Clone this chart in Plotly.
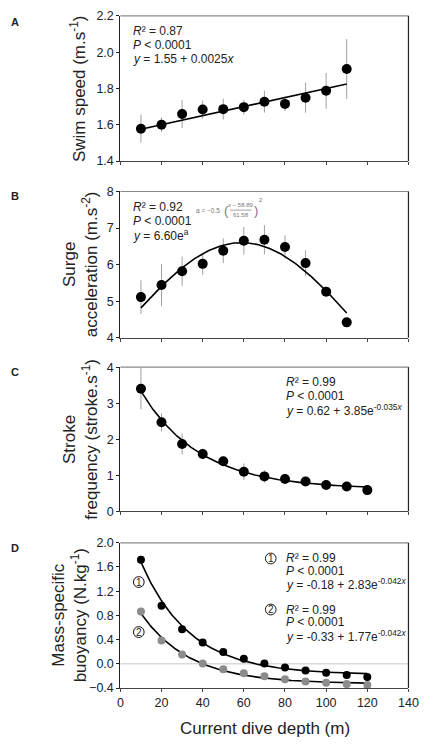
import numpy as np
import plotly.graph_objects as go

W, H = 433, 748

# ---------------- data ----------------
depth_ab = [10, 20, 30, 40, 50, 60, 70, 80, 90, 100, 110]
depth_cd = [10, 20, 30, 40, 50, 60, 70, 80, 90, 100, 110, 120]

swim_speed = [1.578, 1.600, 1.659, 1.684, 1.686, 1.697, 1.727, 1.715, 1.749, 1.787, 1.907]
swim_err = [0.077, 0.040, 0.077, 0.050, 0.057, 0.040, 0.060, 0.040, 0.083, 0.098, 0.165]

surge_acc = [5.11, 5.44, 5.82, 6.02, 6.38, 6.65, 6.68, 6.48, 6.04, 5.26, 4.42]
surge_err = [0.46, 0.58, 0.40, 0.30, 0.34, 0.38, 0.40, 0.32, 0.35, 0.07, 0.0]

stroke_freq = [3.40, 2.47, 1.87, 1.59, 1.39, 1.10, 0.97, 0.90, 0.83, 0.73, 0.69, 0.59]
stroke_err = [0.57, 0.25, 0.29, 0.15, 0.05, 0.23, 0.17, 0.10, 0.07, 0.05, 0.04, 0.03]

buoy_1 = [1.718, 0.960, 0.573, 0.353, 0.197, 0.084, 0.003, -0.061, -0.110, -0.147, -0.185, -0.217]
buoy_2 = [0.863, 0.385, 0.154, 0.003, -0.088, -0.158, -0.206, -0.255, -0.292, -0.314, -0.335, -0.352]

# fitted model coefficients (as printed on the chart)
fitA = (1.55, 0.0025)
fitB = (6.60, 58.89, 61.58)
fitC = (0.62, 3.85, -0.035)
fitD1 = (-0.18, 2.83, -0.042)
fitD2 = (-0.33, 1.77, -0.042)

x_ticks = [0, 20, 40, 60, 80, 100, 120, 140]

# ---------------- layout helpers ----------------
def PX(px):
    return px / W

def PY(py):
    return 1 - py / H

X0, X1 = 121, 418
panels = [(9, 157), (188, 337), (367, 514), (546, 694)]

FONT = "Liberation Sans, Arial, sans-serif"
fig = go.Figure()

xa = np.linspace(10, 110, 120)
xc = np.linspace(10, 120, 150)

def marker_trace(x, y, err, xref, yref, color="black", size=10):
    kw = {}
    if err is not None:
        kw["error_y"] = dict(type="data", array=err, visible=True, color="#a0a0a0", thickness=1, width=0)
    return go.Scatter(x=x, y=y, mode="markers", xaxis=xref, yaxis=yref,
                      marker=dict(color=color, size=size, line=dict(width=0)),
                      showlegend=False, hoverinfo="skip", **kw)

def line_trace(x, y, xref, yref):
    return go.Scatter(x=x, y=y, mode="lines", xaxis=xref, yaxis=yref,
                      line=dict(color="black", width=1.6), showlegend=False, hoverinfo="skip")

# zero line panel D (drawn first so it sits below)
fig.add_trace(go.Scatter(x=[0, 140], y=[0, 0], mode="lines", xaxis="x4", yaxis="y4",
                         line=dict(color="#d9d9d9", width=1.5), showlegend=False, hoverinfo="skip"))

# Panel A
fig.add_trace(marker_trace(depth_ab, swim_speed, swim_err, "x", "y"))
fig.add_trace(line_trace(xa, fitA[0] + fitA[1] * xa, "x", "y"))
# Panel B
fig.add_trace(marker_trace(depth_ab, surge_acc, surge_err, "x2", "y2"))
fig.add_trace(line_trace(xa, fitB[0] * np.exp(-0.5 * ((xa - fitB[1]) / fitB[2]) ** 2), "x2", "y2"))
# Panel C
fig.add_trace(marker_trace(depth_cd, stroke_freq, stroke_err, "x3", "y3"))
fig.add_trace(line_trace(xc, fitC[0] + fitC[1] * np.exp(fitC[2] * xc), "x3", "y3"))
# Panel D
fig.add_trace(line_trace(xc, fitD1[0] + fitD1[1] * np.exp(fitD1[2] * xc), "x4", "y4"))
fig.add_trace(line_trace(xc, fitD2[0] + fitD2[1] * np.exp(fitD2[2] * xc), "x4", "y4"))
fig.add_trace(marker_trace(depth_cd, buoy_1, None, "x4", "y4", color="black", size=8))
fig.add_trace(marker_trace(depth_cd, buoy_2, None, "x4", "y4", color="#8c8c8c", size=8))

yranges = [([1.4, 2.2], 0.2, ".1f"), ([4, 8], 1, "d"), ([0, 4], 1, "d"), ([-0.4, 2.0], 0.4, ".1f")]

layout = dict(width=W, height=H, margin=dict(l=0, r=0, t=0, b=0),
              paper_bgcolor="white", plot_bgcolor="white",
              font=dict(family=FONT, size=12, color="#222"))

for i, (top, bot) in enumerate(panels):
    sx = "" if i == 0 else str(i + 1)
    rng, dt, fmt = yranges[i]
    layout["xaxis" + sx] = dict(domain=[PX(X0), PX(X1)], range=[0, 140], tickvals=x_ticks,
                                showticklabels=(i == 3), ticks="outside", ticklen=3,
                                tickcolor="#444", showline=True, linecolor="#444", linewidth=1,
                                showgrid=False, zeroline=False, anchor="y" + sx,
                                tickfont=dict(size=12.5, color="#222"))
    layout["yaxis" + sx] = dict(domain=[PY(bot), PY(top)], range=rng, dtick=dt, tick0=rng[0],
                                tickformat=fmt, ticks="outside", ticklen=3, tickcolor="#222",
                                showline=True, linecolor="#222", linewidth=1.2,
                                showgrid=False, zeroline=False, anchor="x" + sx,
                                tickfont=dict(size=12.5, color="#222"))

fig.update_layout(**layout)

shapes = []
for i, (top, bot) in enumerate(panels):
    # top border (gray) and right border (black)
    shapes.append(dict(type="line", xref="paper", yref="paper", x0=PX(X0), x1=PX(X1),
                       y0=PY(top), y1=PY(top), line=dict(color="#888888", width=1.2)))
    shapes.append(dict(type="line", xref="paper", yref="paper", x0=PX(X1), x1=PX(X1),
                       y0=PY(bot), y1=PY(top), line=dict(color="#222222", width=1.2)))

annotations = []

def ann(text, x, y, size=12, xanchor="left", color="#222", **kw):
    annotations.append(dict(text=text, x=PX(x), y=PY(y), xref="paper", yref="paper",
                            xanchor=xanchor, yanchor="middle", showarrow=False, borderpad=0,
                            font=dict(family=FONT, size=size, color=color), **kw))

# panel letters
for letter, yy in zip("ABCD", [15, 193, 372, 551]):
    ann("<b>" + letter + "</b>", 7, yy, size=11)

# y-axis titles
titles = [
    ("Swim speed (m.s<sup>-1</sup>)", 78),
    ("Surge<br>acceleration (m.s<sup>-2</sup>)", 80),
    ("Stroke<br>frequency (stroke.s<sup>-1</sup>)", 80),
    ("Mass-specific<br>buoyancy (N.kg<sup>-1</sup>)", 68),
]
for (t, cx), (top, bot) in zip(titles, panels):
    ann(t, cx, (top + bot) / 2, size=17, xanchor="center", textangle=-90)

# x title
ann("Current dive depth (m)", 270, 735, size=17, xanchor="center")

# Panel A stats
ann("<i>R</i>² = 0.87", 133, 24)
ann("<i>P</i> &lt; 0.0001", 133, 39)
ann("<i>y</i> = 1.55 + 0.0025<i>x</i>", 133, 53)

# Panel B stats
ann("<i>R</i>² = 0.92", 133, 204)
ann("<i>P</i> &lt; 0.0001", 133, 218)
ann("<i>y</i> = 6.60e<sup>a</sup>", 133, 232)
# gaussian exponent formula (small gray)
g = "#777"
ann("a = −0.5", 225, 207, size=6.5, color=g, xanchor="right")
ann("(", 230, 207, size=13, color=g, xanchor="center")
ann("<i>x</i> − 58.89", 245, 202, size=6, color=g, xanchor="center")
ann("61.58", 245, 212, size=6, color=g, xanchor="center")
ann(")", 260.5, 207, size=13, color=g, xanchor="center")
ann("2", 266, 197, size=6, color=g, xanchor="center")
shapes.append(dict(type="line", xref="paper", yref="paper", x0=PX(234), x1=PX(256),
                   y0=PY(207), y1=PY(207), line=dict(color=g, width=0.7)))

# Panel C stats
ann("<i>R</i>² = 0.99", 291, 382)
ann("<i>P</i> &lt; 0.0001", 291, 396)
ann("<i>y</i> = 0.62 + 3.85e<sup>-0.035<i>x</i></sup>", 291, 411)

# Panel D stats
ann("<i>R</i>² = 0.99", 291, 562)
ann("<i>P</i> &lt; 0.0001", 291, 575)
ann("<i>y</i> = -0.18 + 2.83e<sup>-0.042<i>x</i></sup>", 291, 588)
ann("<i>R</i>² = 0.99", 291, 614)
ann("<i>P</i> &lt; 0.0001", 291, 627)
ann("<i>y</i> = -0.33 + 1.77e<sup>-0.042<i>x</i></sup>", 291, 641)

# circled numbers
for num, cx, cy in [("1", 276, 562), ("2", 276, 614), ("1", 140, 586), ("2", 140, 637)]:
    r = 5.5
    shapes.append(dict(type="circle", xref="paper", yref="paper",
                       x0=PX(cx - r), x1=PX(cx + r), y0=PY(cy + r), y1=PY(cy - r),
                       line=dict(color="#111", width=1)))
    ann(num, cx, cy + 0.5, size=10, xanchor="center")

fig.update_layout(shapes=shapes, annotations=annotations)
fig.write_html("out.html", config={"displayModeBar": False},
               post_script="document.body.style.margin='0';document.body.style.padding='0';"
                           "document.body.style.overflow='hidden';")
